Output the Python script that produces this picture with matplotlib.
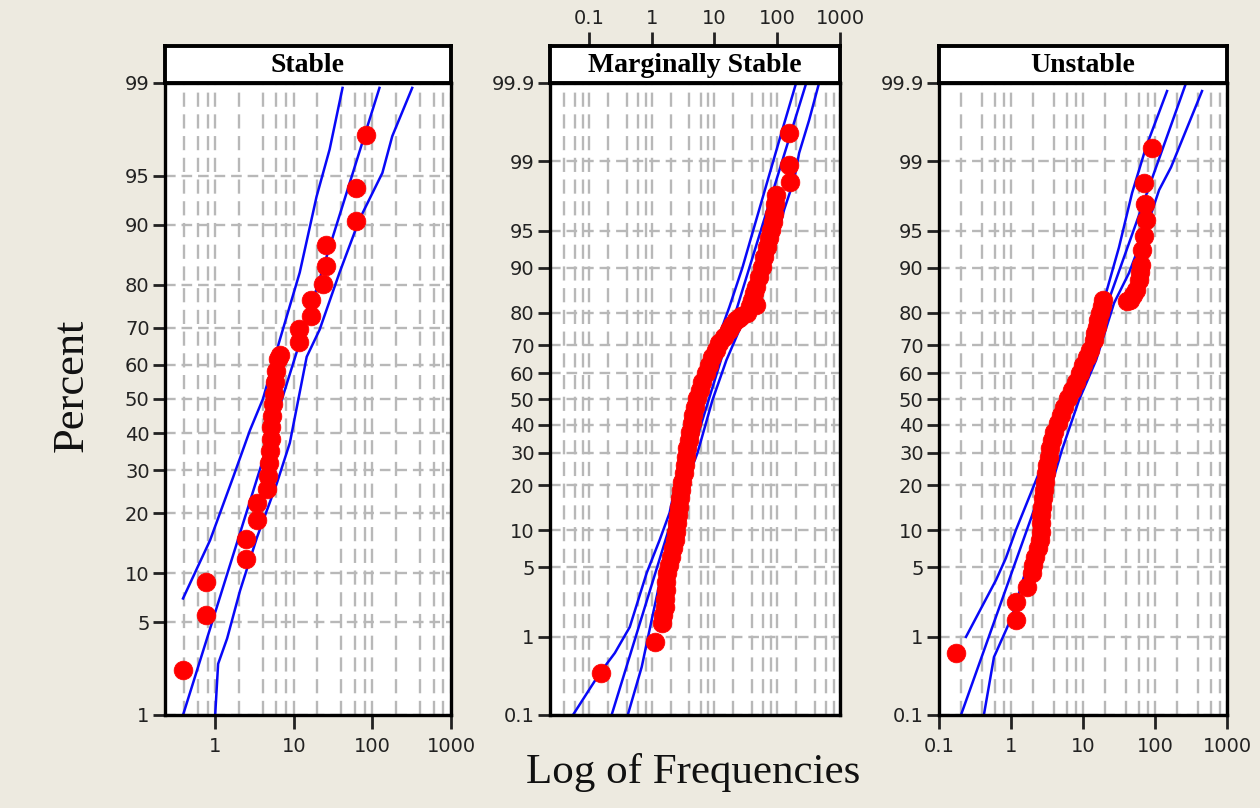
import numpy as np
import matplotlib
matplotlib.use("Agg")
import matplotlib.pyplot as plt
from matplotlib.ticker import FixedLocator, NullFormatter, LogLocator, NullLocator
from statistics import NormalDist

# ------------------------------------------------------------------ data
panel_titles = ["Stable", "Marginally Stable", "Unstable"]

# Stable
stable_x = [0.39, 0.77, 0.77, 2.47, 2.47, 3.4, 3.4, 4.55, 4.7, 4.8, 4.97, 5.1, 5.1, 5.27, 5.4,
            5.6, 5.75, 5.9, 6.3, 6.6, 11.6, 11.6, 16.4, 16.4, 23.3, 25.4, 25.4, 62.7, 62.7, 84.0]
stable_pct = [2.3, 5.55, 8.9, 12.0, 15.2, 18.6, 22.2, 25.3, 28.6, 31.9, 35.2, 38.5, 41.8, 45.1, 48.4,
              51.6, 54.9, 58.2, 61.5, 62.8, 66.3, 69.7, 72.9, 76.8, 80.2, 83.7, 87.2, 90.5, 94.0, 97.4]
stable_fit_x = [0.39, 123.0]
stable_fit_pct = [1.0, 98.9]
stable_up_x = [0.39, 0.86, 1.69, 2.77, 4.05, 6.65, 11.9, 19.5, 28.6, 41.7]
stable_up_pct = [7.1, 14.9, 28.2, 40.9, 50.0, 66.9, 82.4, 93.2, 96.7, 98.9]
stable_lo_x = [1.0, 1.09, 1.42, 2.07, 3.4, 6.1, 8.9, 14.6, 21.3, 38.2, 68.5, 134.0, 179.0, 321.0]
stable_lo_pct = [1.0, 2.56, 3.9, 7.9, 15.4, 26.8, 37.3, 62.2, 69.5, 82.4, 90.7, 95.2, 97.35, 98.9]

# Marginally Stable
ms_x = [0.155, 1.12, 1.44, 1.52, 1.61, 1.64, 1.67, 1.70, 1.73, 1.86, 2.0, 2.15, 2.32, 2.40, 2.49,
        2.59, 2.68, 2.78, 2.89, 3.05, 3.22, 3.34, 3.47, 3.66, 3.87, 4.08, 4.31, 4.56, 4.82, 5.18,
        5.78, 6.45, 7.46, 8.33, 9.3, 10.4, 12.0, 14.4, 17.3, 19.3, 22.3, 24.9, 26.8, 33.4, 37.3,
        46.4, 40.1, 43.1, 46.4, 51.8, 57.8, 62.2, 69.4, 74.6, 80.3, 84.9, 89.6, 92.9, 96.4, 161.0,
        155.0, 155.0]
ms_pct = [0.37, 0.88, 1.43, 1.74, 2.10, 2.53, 3.10, 3.68, 4.45, 5.23, 6.13, 7.26, 8.41, 9.68, 11.3,
          12.8, 14.6, 16.7, 18.7, 20.9, 23.5, 25.9, 28.5, 31.6, 34.4, 37.3, 40.7, 43.8, 46.9, 50.4,
          53.5, 56.6, 60.0, 63.0, 65.9, 68.4, 70.8, 72.8, 75.0, 76.5, 78.0, 78.6, 79.1, 80.0, 81.8,
          82.1, 83.3, 85.0, 86.3, 88.4, 90.2, 91.8, 93.1, 94.2, 95.1, 95.8, 96.5, 97.2, 97.7, 98.3,
          98.9, 99.53]
ms_fit_x = [0.23, 290.0]
ms_fit_pct = [0.1, 99.9]
ms_up_x = [0.0557, 0.150, 0.259, 0.448, 0.833, 1.34, 1.93, 2.49, 3.73, 6.94, 11.2, 17.3, 27.8,
           62.2, 120.0, 200.0]
ms_up_pct = [0.1, 0.37, 0.65, 1.29, 4.45, 8.41, 13.3, 21.4, 34.4, 57.4, 71.8, 81.6, 90.0,
             97.85, 99.57, 99.9]
ms_lo_x = [0.416, 0.694, 1.0, 1.61, 2.78, 5.37, 9.3, 15.5, 24.9, 33.4, 74.6, 129.0, 186.0, 223.0,
           322.0, 464.0]
ms_lo_pct = [0.1, 0.44, 1.54, 5.8, 16.2, 29.9, 49.6, 64.8, 75.0, 80.0, 90.2, 96.8, 98.4, 99.19,
             99.68, 99.9]

# Unstable
un_x = [0.172, 1.17, 1.17, 1.67, 1.96, 2.02, 2.15, 2.37, 2.53, 2.57, 2.61, 2.65, 2.70, 2.78, 2.87,
        2.97, 3.06, 3.16, 3.37, 3.48, 3.71, 3.96, 4.50, 4.95, 5.45, 6.19, 7.03, 8.0, 9.08, 10.0,
        11.4, 12.5, 14.2, 14.7, 15.6, 16.2, 17.2, 18.4, 19.0,
        41.0, 45.0, 49.5, 54.4, 60.0, 61.9, 63.9, 66.0, 70.3, 75.0, 72.6, 70.3, 90.8]
un_pct = [0.65, 1.54, 2.36, 3.30, 4.45, 5.23, 6.13, 7.26, 8.41, 9.68, 11.3, 12.8, 14.6, 16.7, 18.7,
          20.9, 23.5, 25.9, 28.5, 31.6, 34.4, 37.3, 40.7, 43.8, 46.9, 50.4, 53.5, 56.6, 60.0, 63.0,
          65.9, 68.4, 71.8, 74.1, 75.9, 78.0, 80.0, 81.8, 83.3,
          83.0, 83.3, 84.5, 85.7, 87.8, 89.3, 90.5, 92.7, 94.5, 96.0, 97.2, 98.26, 99.29]
un_fit_x = [0.202, 270.0]
un_fit_pct = [0.1, 99.9]
un_up_x = [0.237, 0.62, 0.85, 1.17, 2.45, 3.96, 7.5, 13.3, 20.9, 31.6, 48.0, 75.0, 147.0]
un_up_pct = [1.0, 3.84, 6.0, 10.0, 23.5, 34.4, 57.4, 75.0, 85.0, 93.1, 97.8, 99.31, 99.87]
un_lo_x = [0.42, 0.58, 1.03, 2.37, 5.1, 8.8, 15.2, 27.0, 43.5, 82.6, 114.0, 167.0, 450.0]
un_lo_pct = [0.1, 0.58, 1.66, 10.0, 30.9, 49.6, 64.8, 82.6, 89.1, 96.0, 97.95, 98.83, 99.87]

yticks_short = [1, 5, 10, 20, 30, 40, 50, 60, 70, 80, 90, 95, 99]
yticks_long = [0.1, 1, 5, 10, 20, 30, 40, 50, 60, 70, 80, 90, 95, 99, 99.9]
xticks_vals = [0.1, 1, 10, 100, 1000]
xtick_labels = ["0.1", "1", "10", "100", "1000"]

# ------------------------------------------------------------------ scale
_nd = NormalDist()


def _ppf1(q):
    if not np.isfinite(q):
        return np.nan
    q = min(max(q, 1e-12), 1 - 1e-12)
    return _nd.inv_cdf(q)


def _cdf1(z):
    if not np.isfinite(z):
        return np.nan
    return _nd.cdf(z)


_vppf = np.vectorize(_ppf1, otypes=[float])
_vcdf = np.vectorize(_cdf1, otypes=[float])


def prob_fwd(p):
    return _vppf(np.asarray(p, dtype=float) / 100.0)


def prob_inv(z):
    return _vcdf(np.asarray(z, dtype=float)) * 100.0


# ------------------------------------------------------------------ figure
W, H = 1260, 808
BG = "#EDEAE0"
fig = plt.figure(figsize=(W / 100, H / 100), dpi=100, facecolor=BG)


def rect(l, t, r, b):
    return [l / W, 1 - b / H, (r - l) / W, (b - t) / H]


panels = [
    dict(l=165, r=451, xlim=(0.23, 1000), ylim=(1, 99), yt=yticks_short,
         ylab=["1", "5", "10", "20", "30", "40", "50", "60", "70", "80", "90", "95", "99"],
         x=stable_x, p=stable_pct, fit=(stable_fit_x, stable_fit_pct),
         up=(stable_up_x, stable_up_pct), lo=(stable_lo_x, stable_lo_pct),
         bottom=True, top=False),
    dict(l=550, r=840, xlim=(0.024, 1000), ylim=(0.1, 99.9), yt=yticks_long,
         ylab=["0.1", "1", "5", "10", "20", "30", "40", "50", "60", "70", "80", "90", "95", "99", "99.9"],
         x=ms_x, p=ms_pct, fit=(ms_fit_x, ms_fit_pct),
         up=(ms_up_x, ms_up_pct), lo=(ms_lo_x, ms_lo_pct),
         bottom=False, top=True),
    dict(l=939, r=1227, xlim=(0.1, 1000), ylim=(0.1, 99.9), yt=yticks_long,
         ylab=["0.1", "1", "5", "10", "20", "30", "40", "50", "60", "70", "80", "90", "95", "99", "99.9"],
         x=un_x, p=un_pct, fit=(un_fit_x, un_fit_pct),
         up=(un_up_x, un_up_pct), lo=(un_lo_x, un_lo_pct),
         bottom=True, top=False),
]

TOP, BOT, HTOP = 83, 715, 46
GRID_C = "#B8B8B8"
BLUE = "#0808F8"
RED = "#FF0000"
TFS = 14
tick_font = dict(family="DejaVu Sans")

for i, P in enumerate(panels):
    ax = fig.add_axes(rect(P["l"], TOP, P["r"], BOT))
    ax.set_facecolor("white")
    ax.set_xscale("log")
    ax.set_yscale("function", functions=(prob_fwd, prob_inv))
    ax.set_xlim(*P["xlim"])
    ax.set_ylim(*P["ylim"])

    # grid
    ax.xaxis.set_major_locator(FixedLocator(xticks_vals))
    ax.xaxis.set_minor_locator(LogLocator(base=10, subs=(2, 4, 6, 8), numticks=20))
    ax.xaxis.set_minor_formatter(NullFormatter())
    ax.yaxis.set_major_locator(FixedLocator(P["yt"]))
    ax.yaxis.set_minor_locator(NullLocator())
    ax.set_yticklabels(P["ylab"], fontsize=TFS, **tick_font)
    ax.set_axisbelow(True)
    ax.grid(True, which="both", axis="x", color=GRID_C, lw=1.7, linestyle=(0, (6, 3.2)))
    ax.grid(True, which="major", axis="y", color=GRID_C, lw=1.7, linestyle=(0, (4.5, 2.5)))

    ax.tick_params(axis="y", which="major", direction="out", length=9, width=2, pad=2,
                   labelsize=TFS, colors="#222222")
    ax.tick_params(axis="x", which="minor", length=0)
    if P["bottom"]:
        ax.set_xticklabels(xtick_labels, fontsize=TFS, **tick_font)
        ax.tick_params(axis="x", which="major", direction="out", length=10, width=2, pad=6,
                       labelsize=TFS, colors="#222222")
    else:
        ax.tick_params(axis="x", which="major", length=0, labelbottom=False)

    for sp in ax.spines.values():
        sp.set_linewidth(2.4)
        sp.set_color("black")

    # lines and points
    ax.plot(P["up"][0], P["up"][1], color=BLUE, lw=1.8, zorder=2)
    ax.plot(P["lo"][0], P["lo"][1], color=BLUE, lw=1.8, zorder=2)
    ax.plot(P["fit"][0], P["fit"][1], color=BLUE, lw=1.8, zorder=2)
    ax.plot(P["x"], P["p"], linestyle="none", marker="o", markersize=13.5,
            markerfacecolor=RED, markeredgecolor=RED, markeredgewidth=0.5, zorder=3)

    # header strip
    hx = fig.add_axes(rect(P["l"], HTOP, P["r"], TOP))
    hx.set_facecolor("white")
    hx.set_xscale("log")
    hx.set_xlim(*P["xlim"])
    hx.set_ylim(0, 1)
    hx.set_yticks([])
    for sp in hx.spines.values():
        sp.set_linewidth(2.8)
        sp.set_color("black")
    if P["top"]:
        hx.xaxis.set_major_locator(FixedLocator(xticks_vals))
        hx.xaxis.set_minor_locator(NullLocator())
        hx.xaxis.tick_top()
        hx.set_xticklabels(xtick_labels, fontsize=TFS, **tick_font)
        hx.tick_params(axis="x", which="major", direction="out", length=10, width=2, pad=3,
                       labelsize=TFS, colors="#222222", top=True, bottom=False,
                       labeltop=True, labelbottom=False)
    else:
        hx.xaxis.set_major_locator(NullLocator())
        hx.xaxis.set_minor_locator(NullLocator())
    hx.text(0.5, 0.47, panel_titles[i], transform=hx.transAxes, ha="center", va="center",
            fontsize=20, fontweight="bold", family="Liberation Serif", color="black")

fig.text(72 / W, 1 - 385 / H, "Percent", rotation=90, ha="center", va="center",
         fontsize=32, family="Liberation Serif", color="#111111")
fig.text(693 / W, 1 - 772 / H, "Log of Frequencies", ha="center", va="center",
         fontsize=31, family="Liberation Serif", color="#111111")

fig.savefig("out.png", dpi=100, facecolor=BG)
